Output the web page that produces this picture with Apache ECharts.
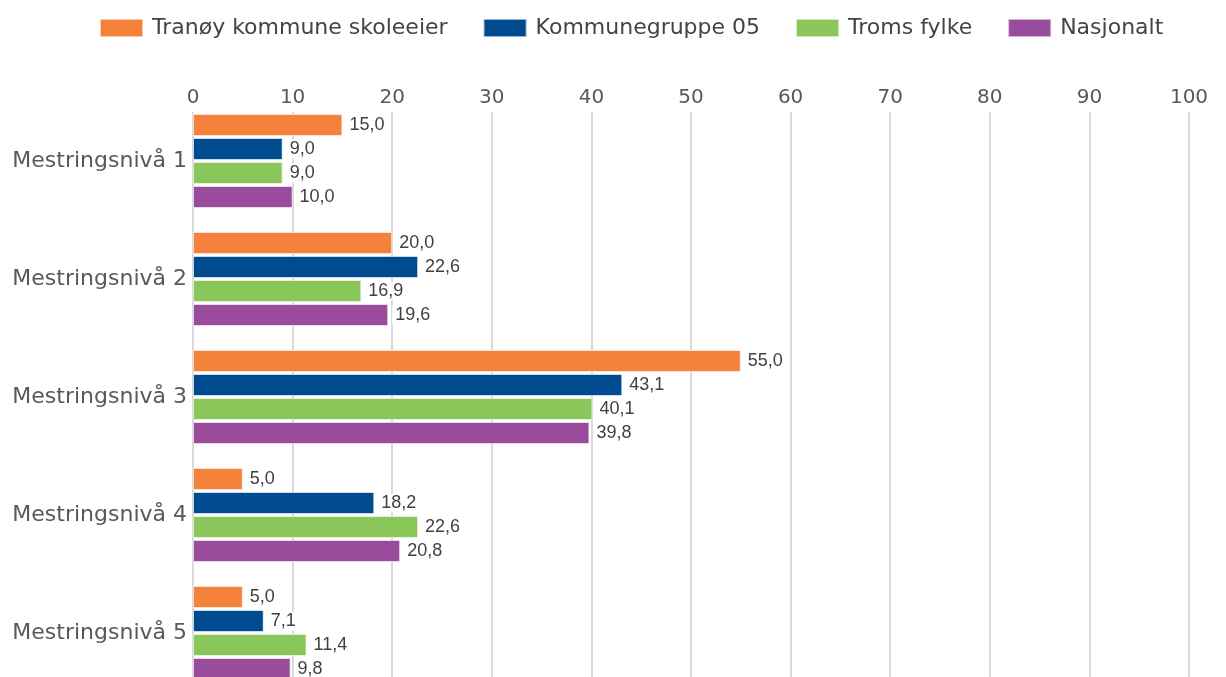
<!DOCTYPE html>
<html>
<head>
<meta charset="utf-8">
<script src="https://cdn.jsdelivr.net/npm/echarts@6/dist/echarts.min.js"></script>
<style>
  html, body { margin: 0; padding: 0; background: #fff; overflow: hidden; }
  /* taller than the window: the plot area runs past the bottom edge, as in the source */
  #chart { width: 1226px; height: 692px; }
</style>
</head>
<body>
<div id="chart"></div>
<script>
const categories = ["Mestringsnivå 1", "Mestringsnivå 2", "Mestringsnivå 3", "Mestringsnivå 4", "Mestringsnivå 5"];
const seriesNames = ["Tranøy kommune skoleeier", "Kommunegruppe 05", "Troms fylke", "Nasjonalt"];
const tranoy = [15.0, 20.0, 55.0, 5.0, 5.0];
const kommunegruppe = [9.0, 22.6, 43.1, 18.2, 7.1];
const troms = [9.0, 16.9, 40.1, 22.6, 11.4];
const nasjonalt = [10.0, 19.6, 39.8, 20.8, 9.8];
const colors = ["#F5823A", "#004A8F", "#8AC659", "#984C9B"];

const font = "DejaVu Sans";
const values = [tranoy, kommunegruppe, troms, nasjonalt];

const chart = echarts.init(document.getElementById("chart"));

const series = values.map((data, i) => ({
  name: seriesNames[i],
  type: "bar",
  xAxisIndex: 1,
  yAxisIndex: 1,
  data: data,
  barWidth: 22,
  barGap: "9%",
  itemStyle: { color: colors[i], borderColor: "rgba(255,255,255,0.6)", borderWidth: 1 },
  label: {
    show: true,
    position: "right",
    distance: 4,
    fontFamily: "Liberation Sans",
    fontSize: 18,
    color: "#404040",
    backgroundColor: "#fff",
    padding: [1, 3, 0, 3],
    formatter: (p) => p.value.toFixed(1).replace(".", ",")
  }
}));

chart.setOption({
  animation: false,
  color: colors,
  legend: {
    top: 12,
    left: 94,
    itemWidth: 43,
    itemHeight: 18,
    itemGap: 35,
    icon: "rect",
    textStyle: { fontFamily: font, fontSize: 22, color: "#444", padding: [0, 0, 0, 4] },
    data: seriesNames
  },
  grid: [
    { left: 193, right: 37, top: 112, bottom: 0 },
    { left: 193, right: 37, top: 102, bottom: 0 }
  ],
  xAxis: [
    {
      gridIndex: 0,
      type: "value",
      position: "top",
      min: 0,
      max: 100,
      interval: 10,
      axisLine: { show: false },
      axisTick: { show: false },
      axisLabel: { fontFamily: font, fontSize: 20, color: "#595959", margin: 4 },
      splitLine: { lineStyle: { color: "#DADADA", width: 2 } }
    },
    {
      gridIndex: 1,
      type: "value",
      min: 0,
      max: 100,
      show: false,
      splitLine: { show: false }
    }
  ],
  yAxis: [
    {
      gridIndex: 0,
      type: "category",
      data: categories,
      show: false
    },
    {
      gridIndex: 1,
      type: "category",
      data: categories,
      inverse: true,
      axisLine: { show: false },
      axisTick: { show: false },
      axisLabel: { fontFamily: font, fontSize: 22, color: "#595959", margin: 6 }
    }
  ],
  series: series
});
</script>
</body>
</html>
